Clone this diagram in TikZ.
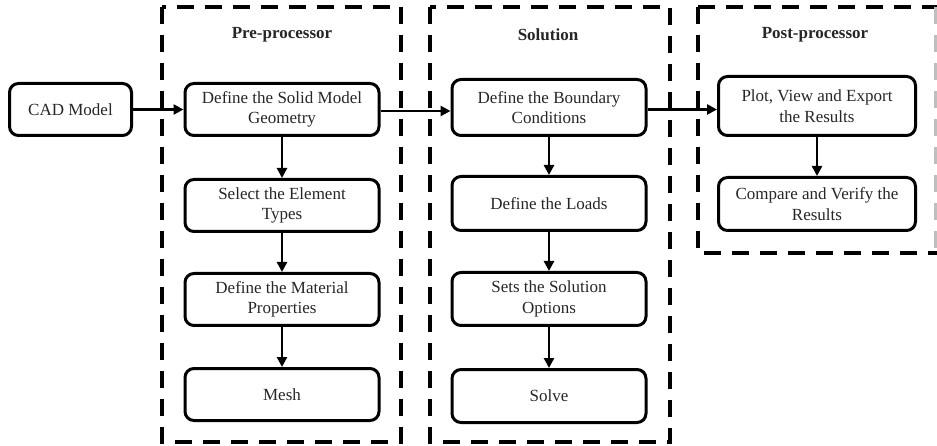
\documentclass[tikz,border=0pt]{standalone}
\usepackage{fontspec}
\setmainfont{Liberation Serif}
\usetikzlibrary{arrows.meta}
\begin{document}
\begin{tikzpicture}[x=1pt,y=-1pt,
  stage/.style={draw=black, line width=3pt, rounded corners=9pt, align=center,
    text=black!85, font=\fontsize{17}{20.5}\selectfont, inner sep=0pt,
    minimum width=194pt, minimum height=52pt},
  phase/.style={draw=black, line width=4pt, dash pattern=on 17pt off 11pt},
  heading/.style={font=\bfseries\fontsize{17}{20.5}\selectfont, text=black!85},
  flow/.style={line width=2.5pt, -{Triangle[length=10pt,width=10pt]}}
]
\useasboundingbox (0,0) rectangle (937,446);

% phase frames
\draw[phase] (162,7) rectangle (401,442);
\draw[phase] (430,7) rectangle (670,442);
\draw[phase] (698,7) -- (937,7);
\draw[phase] (698,7) -- (698,253) -- (937,253);
\draw[line width=3pt, black!25, dash pattern=on 17pt off 11pt] (935,7) -- (935,253);

% phase titles
\node[heading] (hpre) at (282,35) {Pre-processor};
\node[heading] (hsol) at (548,35) {Solution};
\node[heading] (hpost) at (815,35) {Post-processor};

% input
\node[stage, minimum width=122pt] (cad) at (70.5,109.5) {CAD Model};

% pre-processor steps
\node[stage] (geom) at (282,109.5) {Define the Solid Model\\Geometry};
\node[stage] (elem) at (282,205.5) {Select the Element\\Types};
\node[stage] (mat) at (282,299.5) {Define the Material\\Properties};
\node[stage] (mesh) at (282,394.5) {Mesh};

% solution steps
\node[stage, minimum height=56pt] (bc) at (549,107.5) {Define the Boundary\\Conditions};
\node[stage, minimum height=54pt] (loads) at (549,203.5) {Define the Loads};
\node[stage, minimum height=53pt] (opts) at (549,299) {Sets the Solution\\Options};
\node[stage, minimum height=53pt] (solve) at (549,396) {Solve};

% post-processor steps
\node[stage, minimum width=197pt, minimum height=59pt] (plot) at (817,106) {Plot, View and Export\\the Results};
\node[stage, minimum width=197pt, minimum height=53pt] (cmp) at (817,204) {Compare and Verify the\\Results};

% connectors
\draw[flow] (cad.east) -- (cad.east -| geom.west);
\draw[flow] ([yshift=-1.5pt]geom.east) -- ([yshift=-1.5pt]geom.east -| bc.west);
\draw[flow] ([yshift=-2pt]bc.east) -- ([yshift=-2pt]bc.east -| plot.west);
\draw[flow] (geom) ++(0,27.5) coordinate (g1) (g1) -- (g1 |- elem.north);
\draw[flow] (elem.south) -- (mat.north);
\draw[flow] (mat.south) -- (mesh.north);
\draw[flow] (bc.south) -- (loads.north);
\draw[flow] (loads.south) -- (opts.north);
\draw[flow] (opts.south) -- (solve.north);
\draw[flow] (plot.south) -- (cmp.north);
\end{tikzpicture}
\end{document}
